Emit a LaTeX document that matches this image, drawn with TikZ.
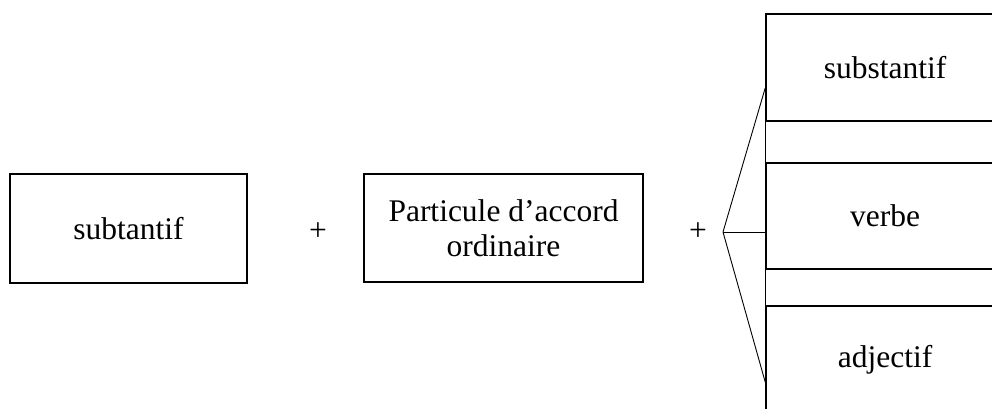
\documentclass[tikz,border=0pt]{standalone}
\usepackage{fontspec}
\setmainfont{Liberation Serif}
\usetikzlibrary{calc}
\begin{document}
\begin{tikzpicture}[x=1pt,y=1pt,
  box/.style={draw,line width=1.6pt,inner sep=0pt,align=center,font=\fontsize{31.5}{35}\selectfont},
  plus/.style={inner sep=0pt,font=\fontsize{31.5}{35}\selectfont},
  conn/.style={line width=0.9pt}]
\useasboundingbox (0,0) rectangle (992,408);
\clip (0,0) rectangle (992,408);
\node[box,minimum width=237pt,minimum height=109pt] (a) at (128.5,179.5) {subtantif};
\node[plus] (p1) at (318,176) {+};
\node[box,minimum width=279pt,minimum height=108pt] (b) at (503.5,180) {Particule d’accord\\ordinaire};
\node[plus] (p2) at (698,176) {+};
\node[box,minimum width=238pt,minimum height=107pt] (top) at (885,340.5) {substantif};
\node[box,minimum width=238pt,minimum height=106pt] (mid) at (885,192) {verbe};
\node[box,minimum width=238pt,minimum height=107pt] (bot) at (885,48.5) {adjectif};
\coordinate (fan) at (723,176);
\coordinate (t1) at ($(top.west)+(0,-20.5)$);
\coordinate (t3) at ($(bot.west)+(0,-22.5)$);
\draw[conn] (top.south west) -- (bot.north west);
\draw[conn] (t1) -- (fan) -- (t3);
\draw[conn] (fan) -- (mid.west |- fan);
\end{tikzpicture}
\end{document}
